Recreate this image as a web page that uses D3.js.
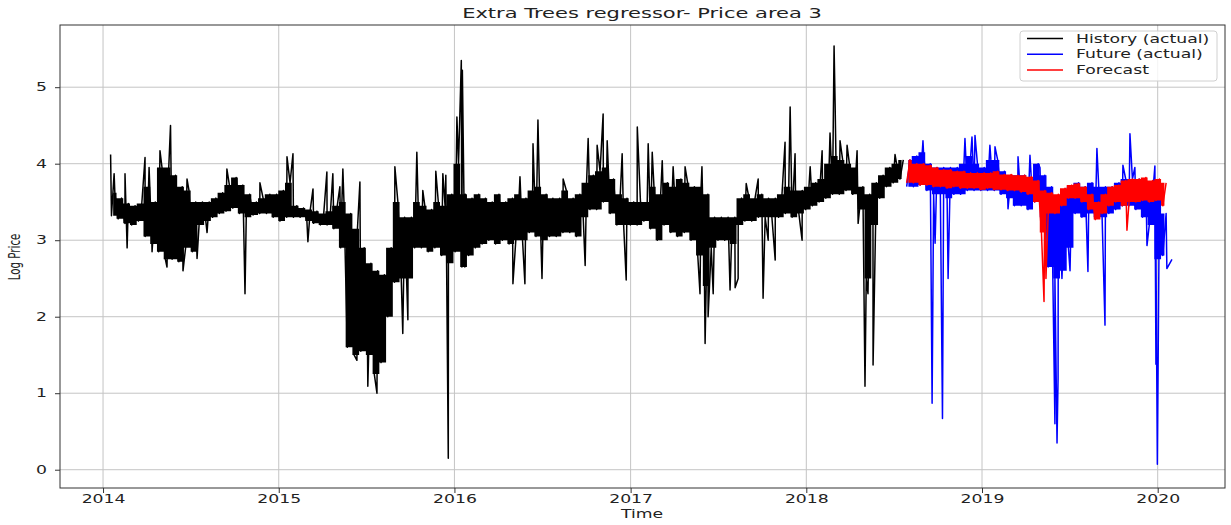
<!DOCTYPE html>
<html>
<head>
<meta charset="utf-8">
<script src="https://cdn.jsdelivr.net/npm/d3@7"></script>
<style>
  body { margin: 0; background: #fff; }
  text { font-family: "DejaVu Sans", sans-serif; fill: #222; }
</style>
</head>
<body>
<script>
(function(){
'use strict';

// two-week bins, starting mid January 2014; each bin has a low and a high value
var binStart = new Date(2014, 0, 15);
var binDays = 14;

var histLo = [3.32, 3.28, 3.22, 3.20, 3.25, 3.05, 2.95, 2.85, 2.75, 2.75,
              2.72, 2.90, 2.85, 3.20, 3.25, 3.30, 3.35, 3.38, 3.42, 3.35,
              3.30, 3.33, 3.35, 3.35, 3.30, 3.25, 3.30, 3.30, 3.30, 3.25,
              3.22, 3.20, 3.20, 3.15, 2.90, 1.60, 1.50, 1.55, 1.50, 1.25,
              1.40, 2.00, 2.45, 2.50, 2.50, 2.90, 2.90, 2.85, 2.90, 2.80,
              2.70, 2.85, 2.65, 2.80, 2.90, 2.95, 3.00, 2.95, 3.00, 2.95,
              3.00, 3.00, 3.10, 3.05, 3.00, 3.05, 3.05, 3.10, 3.10, 3.05,
              3.30, 3.40, 3.40, 3.50, 3.35, 3.20, 3.20, 3.20, 3.20, 3.25,
              3.15, 3.00, 3.20, 3.10, 3.05, 3.10, 3.00, 2.80, 2.40, 2.90,
              3.00, 3.00, 2.95, 3.20, 3.25, 3.25, 3.30, 3.30, 3.30, 3.30,
              3.35, 3.30, 3.35, 3.40, 3.45, 3.50, 3.55, 3.60, 3.60, 3.65,
              3.60, 3.40, 2.50, 3.20, 3.55, 3.70, 3.75, 3.80];
var histHi = [3.62, 3.55, 3.48, 3.45, 3.48, 3.70, 3.50, 3.95, 3.95, 3.85,
              3.70, 3.65, 3.50, 3.50, 3.50, 3.55, 3.62, 3.72, 3.82, 3.72,
              3.60, 3.50, 3.55, 3.60, 3.60, 3.65, 3.75, 3.45, 3.42, 3.40,
              3.38, 3.35, 3.38, 3.45, 3.50, 3.35, 3.15, 2.90, 2.70, 2.60,
              2.55, 2.90, 3.50, 3.30, 3.30, 3.50, 3.45, 3.40, 3.50, 3.45,
              3.60, 4.00, 3.60, 3.55, 3.60, 3.55, 3.50, 3.60, 3.50, 3.55,
              3.60, 3.55, 3.65, 3.70, 3.60, 3.55, 3.55, 3.65, 3.55, 3.60,
              3.75, 3.85, 3.90, 3.95, 3.80, 3.60, 3.55, 3.50, 3.50, 3.50,
              3.70, 3.60, 3.75, 3.70, 3.80, 3.75, 3.70, 3.70, 3.60, 3.30,
              3.30, 3.30, 3.30, 3.55, 3.60, 3.55, 3.60, 3.55, 3.55, 3.60,
              3.70, 3.65, 3.65, 3.70, 3.75, 3.80, 4.00, 4.10, 4.05, 4.00,
              3.95, 3.70, 3.60, 3.75, 3.85, 3.95, 4.00, 4.05];

var futLo = [3.70, 3.70, 3.72, 3.65, 3.60, 3.60, 3.55, 3.60, 3.60, 3.65,
             3.65, 3.65, 3.65, 3.65, 3.60, 3.55, 3.45, 3.45, 3.40, 3.50,
             3.30, 2.65, 2.50, 2.60, 2.90, 3.35, 3.30, 3.35, 3.30, 3.30,
             3.35, 3.40, 3.45, 3.45, 3.40, 3.30, 3.20, 2.75, 2.80];
var futHi = [4.05, 4.10, 4.15, 4.00, 3.95, 3.95, 3.95, 3.95, 4.00, 4.10,
             4.00, 3.95, 4.05, 4.05, 3.90, 3.85, 3.85, 3.85, 3.80, 4.00,
             3.85, 3.70, 3.55, 3.60, 3.70, 3.75, 3.70, 3.75, 3.70, 3.70,
             3.70, 3.75, 3.80, 3.80, 3.80, 3.75, 3.60, 3.55, 3.35];

var fcLo = [3.75, 3.75, 3.72, 3.72, 3.70, 3.70, 3.68, 3.70, 3.68, 3.68,
            3.68, 3.66, 3.68, 3.66, 3.66, 3.65, 3.65, 3.63, 3.60, 3.50,
            3.10, 3.35, 3.35, 3.45, 3.55, 3.55, 3.50, 3.40, 3.27, 3.35,
            3.45, 3.50, 3.45, 3.50, 3.50, 3.52, 3.50, 3.52, 3.45];
var fcHi = [4.05, 4.00, 4.00, 3.98, 3.95, 3.92, 3.92, 3.90, 3.90, 3.88,
            3.88, 3.88, 3.88, 3.90, 3.86, 3.86, 3.85, 3.85, 3.83, 3.78,
            3.65, 3.62, 3.60, 3.68, 3.72, 3.74, 3.70, 3.60, 3.50, 3.60,
            3.70, 3.72, 3.78, 3.80, 3.80, 3.82, 3.78, 3.80, 3.75];

// single sharp values [decimal year, log price]
var histSpikes = [[2014.043, 4.12], [2014.063, 3.87], [2014.125, 3.87], [2014.137, 2.90],
  [2014.239, 4.08], [2014.262, 3.95], [2014.279, 2.85], [2014.324, 4.17], [2014.364, 2.65],
  [2014.384, 4.50], [2014.455, 2.60], [2014.478, 3.80], [2014.535, 2.76], [2014.592, 3.10],
  [2014.705, 3.93], [2014.808, 2.30], [2014.893, 3.75], [2015.047, 4.09], [2015.081, 4.13],
  [2015.166, 2.98], [2015.195, 3.67], [2015.274, 3.89], [2015.308, 3.87], [2015.348, 3.70],
  [2015.365, 3.93], [2015.445, 1.43], [2015.462, 3.76], [2015.507, 1.09], [2015.559, 1.00],
  [2015.661, 3.96], [2015.706, 1.78], [2015.735, 1.96], [2015.786, 4.15], [2015.820, 3.65],
  [2015.894, 3.90], [2015.934, 3.87], [2015.951, 3.85], [2015.965, 0.15], [2016.014, 4.61],
  [2016.039, 5.35], [2016.045, 5.22], [2016.059, 2.65], [2016.332, 2.43], [2016.372, 3.83],
  [2016.400, 2.43], [2016.446, 4.26], [2016.474, 4.57], [2016.497, 2.50], [2016.617, 3.80],
  [2016.742, 2.67], [2016.759, 4.33], [2016.810, 4.24], [2016.844, 4.65], [2016.867, 4.30],
  [2016.952, 4.13], [2016.975, 2.48], [2017.038, 4.48], [2017.100, 4.26], [2017.123, 4.15],
  [2017.180, 4.04], [2017.242, 3.96], [2017.310, 3.96], [2017.395, 2.30], [2017.406, 3.96],
  [2017.424, 1.65], [2017.441, 2.00], [2017.470, 2.30], [2017.566, 2.35], [2017.595, 2.38],
  [2017.612, 2.50], [2017.658, 3.74], [2017.726, 3.80], [2017.754, 2.24], [2017.783, 3.00],
  [2017.823, 2.74], [2017.879, 4.28], [2017.908, 4.74], [2017.936, 4.13], [2017.976, 3.00],
  [2018.022, 3.96], [2018.090, 4.17], [2018.135, 4.40], [2018.158, 5.54], [2018.164, 4.78],
  [2018.192, 4.30], [2018.232, 4.24], [2018.289, 4.17], [2018.295, 3.22], [2018.334, 1.09],
  [2018.351, 2.30], [2018.380, 1.37], [2018.505, 4.12]];
var futSpikes = [[2018.664, 4.30], [2018.716, 0.87], [2018.733, 2.96], [2018.775, 0.67],
  [2018.807, 2.50], [2018.903, 4.33], [2018.943, 4.35], [2018.960, 4.37], [2019.045, 4.24],
  [2019.074, 4.22], [2019.148, 3.41], [2019.205, 4.09], [2019.273, 4.11], [2019.330, 3.95],
  [2019.387, 2.80], [2019.415, 0.60], [2019.427, 0.35], [2019.433, 1.20], [2019.455, 2.50],
  [2019.501, 2.60], [2019.603, 2.59], [2019.654, 4.20], [2019.700, 1.89], [2019.802, 3.98],
  [2019.842, 4.39], [2019.870, 3.95], [2019.939, 2.93], [2019.984, 3.97], [2019.990, 1.38],
  [2019.998, 0.07], [2020.052, 2.63], [2020.081, 2.75]];
var fcSpikes = [[2019.353, 2.20], [2019.364, 2.50], [2019.825, 3.13]];

var xTicks = [2014, 2015, 2016, 2017, 2018, 2019, 2020];
var yTicks = [0, 1, 2, 3, 4, 5];
var legendLabels = ['History (actual)', 'Future (actual)', 'Forecast'];
var colors = ['black', 'blue', 'red'];

var W = 1231, H = 525;
var left = 60, right = 1225, top = 25, bottom = 488;
var stretch = 1.5; // the picture is wider than it is tall, text included

function yearToDate(yy){
  var yr = Math.floor(yy);
  var s = new Date(yr, 0, 1), e = new Date(yr + 1, 0, 1);
  return new Date(+s + (yy - yr) * (e - s));
}
function binDate(i, frac){
  return new Date(+binStart + (i + frac) * binDays * 864e5);
}

var x = d3.scaleTime().domain([yearToDate(2013.755), yearToDate(2020.382)]).range([left, right]);
var y = d3.scaleLinear().domain([-0.239, 5.813]).range([bottom, top]);

var svg = d3.select('body').append('svg').attr('width', W).attr('height', H);

// grid
var grid = svg.append('g').attr('stroke', '#c4c4c4').attr('stroke-width', 1);
grid.selectAll('line.gx').data(xTicks).enter().append('line')
  .attr('x1', function(d){ return x(yearToDate(d)); })
  .attr('x2', function(d){ return x(yearToDate(d)); })
  .attr('y1', top).attr('y2', bottom);
grid.selectAll('line.gy').data(yTicks).enter().append('line')
  .attr('y1', function(d){ return y(d); })
  .attr('y2', function(d){ return y(d); })
  .attr('x1', left).attr('x2', right);

// zigzag through each bin's low and high, with the sharp values slotted in by date
function buildLine(lo, hi, offset, spikes){
  var pts = [];
  lo.forEach(function(v, i){
    pts.push({t: binDate(offset + i, 0.25), v: v});
    pts.push({t: binDate(offset + i, 0.75), v: hi[i]});
  });
  spikes.forEach(function(s){ pts.push({t: yearToDate(s[0]), v: s[1]}); });
  pts.sort(function(a, b){ return a.t - b.t; });
  return pts;
}
function buildBand(lo, hi, offset){
  return lo.map(function(v, i){ return {t: binDate(offset + i, 0.5), lo: v, hi: hi[i]}; });
}

var line = d3.line().x(function(d){ return x(d.t); }).y(function(d){ return y(d.v); });
var area = d3.area().curve(d3.curveStep).x(function(d){ return x(d.t); })
  .y0(function(d){ return y(d.lo); }).y1(function(d){ return y(d.hi); });

var series = [
  {lo: histLo, hi: histHi, offset: 0, spikes: histSpikes, color: colors[0]},
  {lo: futLo, hi: futHi, offset: histLo.length, spikes: futSpikes, color: colors[1]},
  {lo: fcLo, hi: fcHi, offset: histLo.length, spikes: fcSpikes, color: colors[2]}
];

var plot = svg.append('g');
series.forEach(function(s){
  plot.append('path').datum(buildBand(s.lo, s.hi, s.offset))
    .attr('d', area).attr('fill', s.color);
  plot.append('path').datum(buildLine(s.lo, s.hi, s.offset, s.spikes))
    .attr('d', line).attr('fill', 'none').attr('stroke', s.color)
    .attr('stroke-width', 1.5).attr('stroke-linejoin', 'round');
});

// frame
svg.append('rect').attr('x', left).attr('y', top)
  .attr('width', right - left).attr('height', bottom - top)
  .attr('fill', 'none').attr('stroke', '#333').attr('stroke-width', 1);

// axes
var xAxis = svg.append('g').attr('transform', 'translate(0,' + bottom + ')')
  .call(d3.axisBottom(x).tickValues(xTicks.map(yearToDate))
    .tickFormat(d3.timeFormat('%Y')).tickSize(5).tickSizeOuter(0));
xAxis.select('.domain').remove();
xAxis.selectAll('line').attr('stroke', '#333');
xAxis.selectAll('text').attr('y', 15).attr('dy', null)
  .attr('font-size', 11.5).attr('fill', '#222')
  .attr('transform', 'scale(' + stretch + ',1)');

var yAxis = svg.append('g').attr('transform', 'translate(' + left + ',0)')
  .call(d3.axisLeft(y).tickValues(yTicks).tickFormat(d3.format('d')).tickSize(5).tickSizeOuter(0));
yAxis.select('.domain').remove();
yAxis.selectAll('line').attr('stroke', '#333');
yAxis.selectAll('text').attr('x', -8.7).attr('font-size', 11.5).attr('fill', '#222')
  .attr('transform', 'scale(' + stretch + ',1)');

// title and labels
svg.append('text').attr('transform', 'translate(642,18) scale(' + stretch + ',1)')
  .attr('text-anchor', 'middle').attr('font-size', 14)
  .text('Extra Trees regressor- Price area 3');
svg.append('text').attr('transform', 'translate(642,518) scale(' + stretch + ',1)')
  .attr('text-anchor', 'middle').attr('font-size', 11.5).text('Time');
svg.append('text').attr('transform', 'translate(20,257) scale(' + stretch + ',1) rotate(-90)')
  .attr('text-anchor', 'middle').attr('font-size', 10.3).text('Log Price');

// legend
var lg = svg.append('g');
lg.append('rect').attr('x', 1020).attr('y', 31).attr('width', 197).attr('height', 50)
  .attr('rx', 3).attr('fill', 'white').attr('fill-opacity', 0.8)
  .attr('stroke', '#d0d0d0').attr('stroke-width', 1);
var items = lg.selectAll('g.item').data(legendLabels).enter().append('g')
  .attr('transform', function(d, i){ return 'translate(0,' + (38.5 + i * 15.7) + ')'; });
items.append('line').attr('x1', 1027).attr('x2', 1063).attr('y1', 0).attr('y2', 0)
  .attr('stroke', function(d, i){ return colors[i]; }).attr('stroke-width', 1.5);
items.append('text').attr('transform', 'translate(1076,4.2) scale(' + stretch + ',1)')
  .attr('font-size', 11.5).text(function(d){ return d; });

})();
</script>
</body>
</html>
